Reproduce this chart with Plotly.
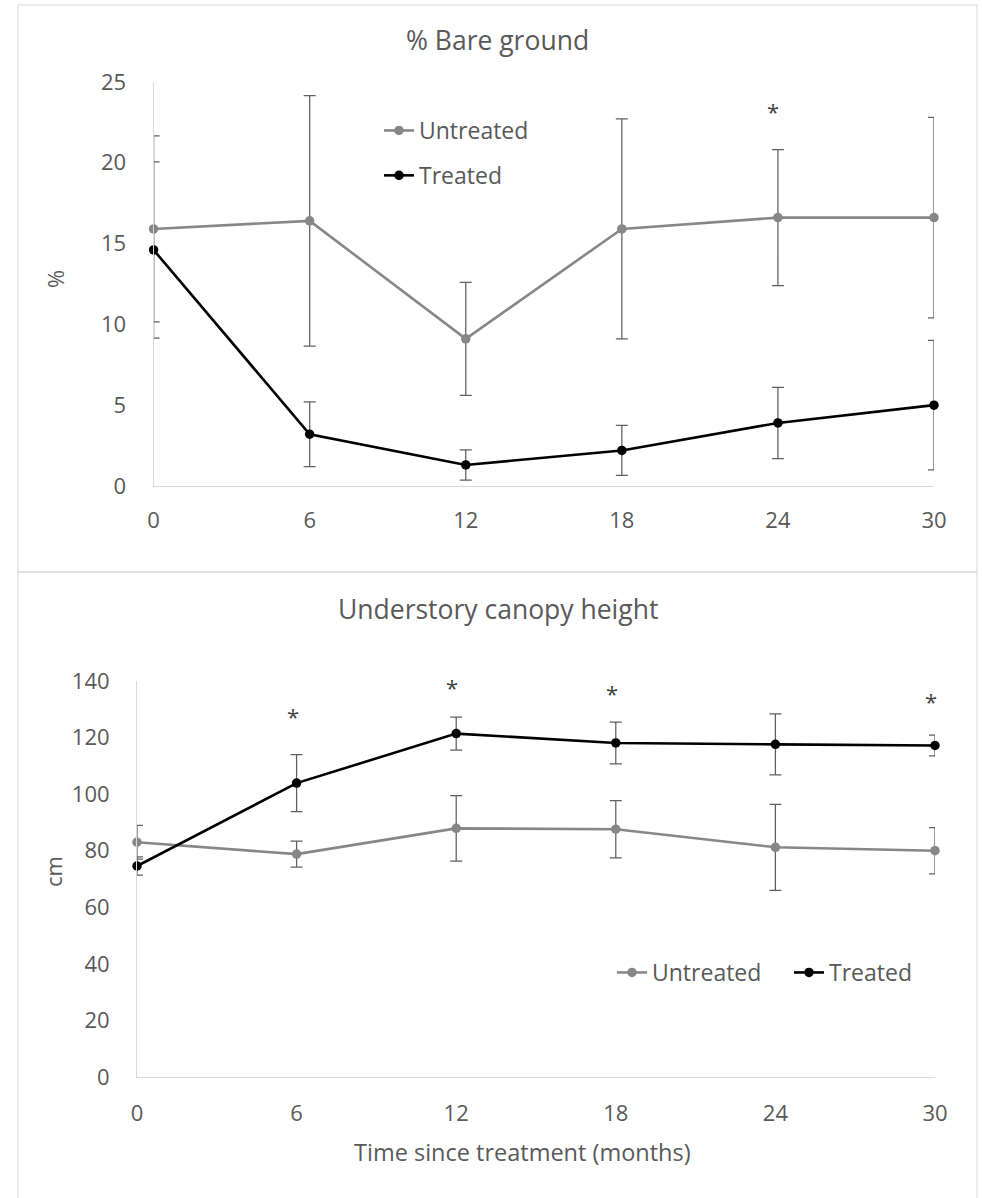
import plotly.graph_objects as go

# ---------------- data ----------------
months = [0, 6, 12, 18, 24, 30]
tick_vals_x = [0, 6, 12, 18, 24, 30]

bare_untreated = [15.9, 16.4, 9.1, 15.9, 16.6, 16.6]
bare_untreated_err = [5.75, 7.75, 3.5, 6.8, 4.2, 6.2]
bare_treated = [14.6, 3.2, 1.3, 2.2, 3.9, 5.0]
bare_treated_err = [5.45, 2.0, 0.93, 1.55, 2.2, 4.0]
bare_sig_x = [24]
bare_sig_y = [23.3]
bare_yticks = [0, 5, 10, 15, 20, 25]

canopy_untreated = [83.0, 78.8, 87.9, 87.6, 81.2, 80.0]
canopy_untreated_err = [6.0, 4.6, 11.6, 10.1, 15.2, 8.2]
canopy_treated = [74.6, 103.9, 121.4, 118.1, 117.6, 117.2]
canopy_treated_err = [3.2, 10.1, 5.8, 7.4, 10.8, 3.7]
canopy_sig_x = [6, 12, 18, 24, 30]
canopy_sig_y = [128.4, 138.7, 136.6, 140.3, 133.8]
canopy_yticks = [0, 20, 40, 60, 80, 100, 120, 140]

series_names = ["Untreated", "Treated"]

# ---------------- style ----------------
W, H = 982, 1198
FONT = "Open Sans"
TXT = "#595959"
GRAY = "#878787"
BLACK = "#000000"
ERR = "#5f5f5f"
AXIS = "#d9d9d9"


def px_x(p):
    return p / W


def px_y(p):
    return 1 - p / H


fig = go.Figure()


def add_pair(unt, unt_err, trt, trt_err, xa, ya, leg):
    for name, vals, errs, col in [
        (series_names[0], unt, unt_err, GRAY),
        (series_names[1], trt, trt_err, BLACK),
    ]:
        fig.add_trace(go.Scatter(
            x=months, y=vals, name=name, mode="lines+markers",
            line=dict(color=col, width=2.6),
            marker=dict(color=col, size=9.5, symbol="circle"),
            error_y=dict(type="data", array=errs, visible=True,
                         color=ERR, thickness=1.25, width=6),
            xaxis=xa, yaxis=ya, legend=leg, legendgroup=leg + name,
            cliponaxis=False, hoverinfo="skip",
        ))


add_pair(bare_untreated, bare_untreated_err, bare_treated, bare_treated_err,
         "x", "y", "legend")
add_pair(canopy_untreated, canopy_untreated_err, canopy_treated,
         canopy_treated_err, "x2", "y2", "legend2")

# significance asterisks
for sx, sy in zip(bare_sig_x, bare_sig_y):
    fig.add_annotation(x=sx, y=sy, xref="x", yref="y", text="*",
                       showarrow=False, xshift=-5, yshift=-2,
                       font=dict(family=FONT, size=22, color="#404040"))
for sx, sy in zip(canopy_sig_x, canopy_sig_y):
    fig.add_annotation(x=sx, y=sy, xref="x2", yref="y2", text="*",
                       showarrow=False, xshift=-4, yshift=-2,
                       font=dict(family=FONT, size=22, color="#404040"))

axis_common = dict(showgrid=False, zeroline=False, showline=True,
                   linecolor=AXIS, linewidth=1, automargin=False,
                   tickfont=dict(family=FONT, size=22, color=TXT),
                   ticks="outside", tickcolor="rgba(0,0,0,0)")

fig.update_layout(
    width=W, height=H,
    margin=dict(l=0, r=0, t=0, b=0, pad=0, autoexpand=False),
    paper_bgcolor="white", plot_bgcolor="white",
    font=dict(family=FONT, color=TXT),
    xaxis=dict(domain=[px_x(153.6), px_x(934)], range=[0, 30],
               tickvals=tick_vals_x, anchor="y", ticklen=15, **axis_common),
    yaxis=dict(domain=[px_y(486), px_y(81.8)], range=[0, 25],
               tickvals=bare_yticks, anchor="x", ticklen=22, **axis_common),
    xaxis2=dict(domain=[px_x(137), px_x(935)], range=[0, 30],
                tickvals=tick_vals_x, anchor="y2", ticklen=17, **axis_common),
    yaxis2=dict(domain=[px_y(1077), px_y(681)], range=[0, 140],
                tickvals=canopy_yticks, anchor="x2", ticklen=22, **axis_common),
    legend=dict(x=px_x(379), y=px_y(109), xanchor="left", yanchor="top",
                bgcolor="rgba(0,0,0,0)", font=dict(family=FONT, size=23, color=TXT),
                tracegroupgap=12, orientation="v"),
    legend2=dict(x=px_x(612), y=px_y(951), xanchor="left", yanchor="top",
                 bgcolor="rgba(0,0,0,0)", font=dict(family=FONT, size=23, color=TXT),
                 orientation="h", entrywidth=132, entrywidthmode="pixels"),
    showlegend=True,
)

# titles
title_font = dict(family=FONT, size=26.5, color=TXT)
fig.add_annotation(x=px_x(498), y=px_y(40), xref="paper", yref="paper",
                   xanchor="center", yanchor="middle",
                   text="% Bare ground", showarrow=False, font=title_font)
fig.add_annotation(x=px_x(498), y=px_y(609), xref="paper", yref="paper",
                   xanchor="center", yanchor="middle",
                   text="Understory canopy height", showarrow=False,
                   font=title_font)
fig.add_annotation(x=px_x(55), y=px_y(279), xref="paper", yref="paper",
                   xanchor="center", yanchor="middle",
                   text="%", showarrow=False, textangle=-90,
                   font=dict(family=FONT, size=22, color=TXT))
fig.add_annotation(x=px_x(53), y=px_y(872), xref="paper", yref="paper",
                   xanchor="center", yanchor="middle",
                   text="cm", showarrow=False, textangle=-90,
                   font=dict(family=FONT, size=22, color=TXT))
fig.add_annotation(x=px_x(522), y=px_y(1152), xref="paper", yref="paper",
                   xanchor="center", yanchor="middle",
                   text="Time since treatment (months)", showarrow=False,
                   font=dict(family=FONT, size=23.5, color=TXT))

# panel borders
fig.add_shape(type="rect", xref="paper", yref="paper",
              x0=px_x(18), x1=px_x(977), y0=px_y(572), y1=px_y(5),
              line=dict(color=AXIS, width=1))
fig.add_shape(type="rect", xref="paper", yref="paper",
              x0=px_x(18), x1=px_x(977), y0=-0.01, y1=px_y(572),
              line=dict(color=AXIS, width=1))

fig.write_html("out.html", config={"displayModeBar": False},
               post_script="document.body.style.margin='0';")
